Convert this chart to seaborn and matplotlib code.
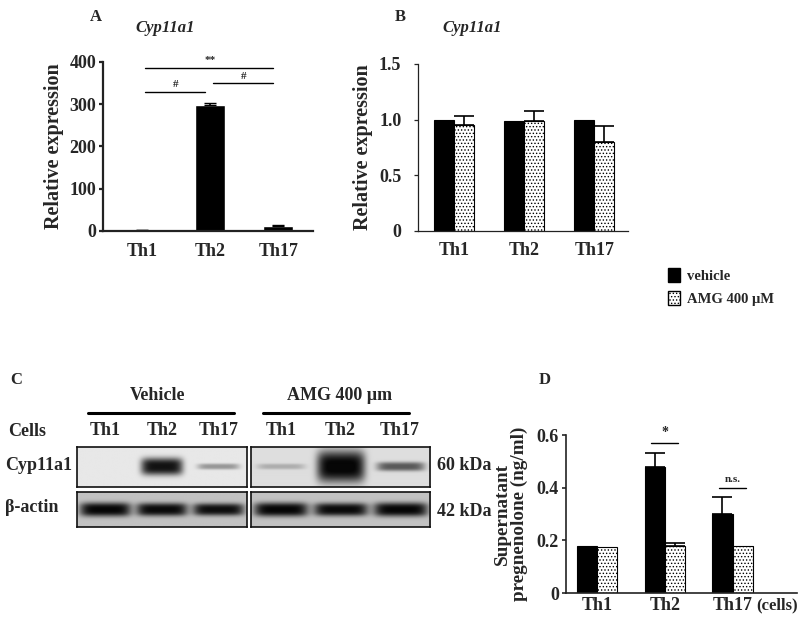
import numpy as np
import pandas as pd
import matplotlib.pyplot as plt
import seaborn as sns
from matplotlib.patches import Patch
from matplotlib.lines import Line2D

# ---- data ----
cells = ['Th1', 'Th2', 'Th17']
treatments = ['vehicle', 'AMG 400 μM']

# A: Cyp11a1 relative expression
expr_a = [2, 298, 12]
err_a = [0.5, 5, 1.5]

# B: Cyp11a1 relative expression, vehicle vs AMG
expr_b_vehicle = [1.0, 0.99, 1.0]
expr_b_amg = [0.95, 0.99, 0.80]
err_b_vehicle = [0.0, 0.0, 0.0]
err_b_amg = [0.08, 0.09, 0.14]

# C: western blot band intensities (0 = no band, 1 = saturated)
cyp_vehicle = [0.0, 0.92, 0.35]
cyp_amg = [0.22, 1.0, 0.6]
actin_vehicle = [0.97, 0.95, 0.93]
actin_amg = [0.97, 0.95, 0.97]

# D: supernatant pregnenolone (ng/ml)
preg_vehicle = [0.18, 0.48, 0.30]
preg_amg = [0.175, 0.18, 0.18]
preg_err_vehicle = [0.0, 0.05, 0.065]
preg_err_amg = [0.0, 0.01, 0.0]

# significance marks: (group from, group to, height, label)
sig_a = [(0, 2, 386, '**'), (0, 1, 329, '#'), (1, 2, 350, '#')]
sig_d = [(1, 0.57, '*'), (2, 0.40, 'n.s.')]

sns.set_style('ticks')
plt.rcParams['font.family'] = ['Liberation Serif', 'DejaVu Serif']
plt.rcParams['font.weight'] = 'bold'
plt.rcParams['axes.labelweight'] = 'bold'
plt.rcParams['hatch.linewidth'] = 0.6
plt.rcParams['hatch.color'] = 'black'

W, H = 800, 622
fig = plt.figure(figsize=(8, 6.22), dpi=100)


def box(l, t, r, b):
    return [l / W, 1 - b / H, (r - l) / W, (b - t) / H]


def ftext(x, y, s, **kw):
    fig.text(x / W, 1 - y / H, s, **kw)


def style_axis(ax, lw, xpad, ypad, size=13):
    sns.despine(ax=ax)
    for sp in ['left', 'bottom']:
        ax.spines[sp].set_linewidth(lw)
        ax.spines[sp].set_color('#222222')
    ax.tick_params(axis='x', length=0, pad=xpad, labelsize=size)
    ax.tick_params(axis='y', length=3, width=lw, pad=ypad, labelsize=size)
    for lab in ax.get_xticklabels() + ax.get_yticklabels():
        lab.set_fontweight('bold')


def grouped(ax, vals_v, vals_a, errs_v, errs_a, width, cap):
    df = pd.DataFrame({'cell': cells * 2,
                       'treatment': [treatments[0]] * 3 + [treatments[1]] * 3,
                       'value': vals_v + vals_a})
    sns.barplot(data=df, x='cell', y='value', hue='treatment',
                palette=['black', 'white'], saturation=1, width=width,
                edgecolor='black', linewidth=0.8, errorbar=None,
                legend=False, ax=ax)
    bars = ax.patches[:6]
    for p in bars[3:]:
        p.set_hatch('.....')
    for p, e in zip(bars, errs_v + errs_a):
        if e > 0:
            ax.errorbar(p.get_x() + p.get_width() / 2, p.get_height(),
                        yerr=[[0], [e]], color='black', capsize=cap,
                        elinewidth=1.2, capthick=1.2)
    return bars


# ---- A ----
axA = fig.add_axes(box(103, 62, 313, 231))
sns.barplot(x=cells, y=expr_a, color='black', saturation=1, width=0.44,
            errorbar=None, ax=axA)
axA.errorbar(range(3), expr_a, yerr=[[0] * 3, err_a], fmt='none',
             color='black', capsize=4, elinewidth=1.2)
axA.set_ylim(0, 400)
axA.set_xlim(-0.57, 2.51)
axA.set_yticks([0, 100, 200, 300, 400])
axA.set_ylabel('Relative expression', fontsize=14.5, labelpad=4)
style_axis(axA, 1.6, 9, 2)
for i, j, h, s in sig_a:
    axA.plot([i + 0.05, j - 0.08], [h, h], color='black', lw=1, clip_on=False)
    axA.text((i + j) / 2, h + 6, s, ha='center', va='bottom', fontsize=8)
ftext(96, 17, 'A', fontsize=12, fontweight='bold', va='center', ha='center')
ftext(135, 28, 'Cyp11a1', fontsize=12, fontweight='bold', style='italic', va='center')

# ---- B ----
axB = fig.add_axes(box(418, 64, 628, 231))
grouped(axB, expr_b_vehicle, expr_b_amg, err_b_vehicle, err_b_amg, 0.57, 7)
axB.set_ylim(0, 1.5)
axB.set_xlim(-0.51, 2.48)
axB.set_yticks([0, 0.5, 1.0, 1.5])
axB.set_yticklabels(['0', '0.5', '1.0', '1.5'])
axB.set_xlabel('')
axB.set_ylabel('Relative expression', fontsize=14.5, labelpad=4)
style_axis(axB, 0.9, 8, 9)
ftext(400, 17, 'B', fontsize=12, fontweight='bold', va='center', ha='center')
ftext(442, 28, 'Cyp11a1', fontsize=12, fontweight='bold', style='italic', va='center')

# legend
handles = [Patch(facecolor='black', edgecolor='black', label=treatments[0]),
           Patch(facecolor='white', edgecolor='black', hatch='.....',
                 label=treatments[1])]
fig.legend(handles=handles, loc='upper left', bbox_to_anchor=(668 / W, 1 - 268 / H),
           frameon=False, fontsize=10.5, handlelength=0.8, handleheight=1.1,
           handletextpad=0.5, labelspacing=0.55, borderpad=0, borderaxespad=0)


# ---- C: western blot ----
def blot_image(intensity, bg, spread, t0, t1):
    xs = np.linspace(-0.5, 2.5, 360)
    ys = np.linspace(0, 1, 60)
    X, Y = np.meshgrid(xs, ys)
    dark = np.zeros_like(X)
    for i, v in enumerate(intensity):
        t = t0 + t1 * v ** 4
        dark += v * np.exp(-(np.abs(X - i) / spread) ** 6) * np.exp(-(np.abs(Y - 0.5) / t) ** 3)
    return bg * (1 - np.clip(dark, 0, 0.97))


blots = [
    (box(77, 447, 247, 487), cyp_vehicle, 0.91, 0.37, 0.07, 0.20, True),
    (box(77, 492, 247, 527), actin_vehicle, 0.76, 0.45, 0.05, 0.17, False),
    (box(251, 447, 430, 487), cyp_amg, 0.87, 0.40, 0.07, 0.32, True),
    (box(251, 492, 430, 527), actin_amg, 0.76, 0.45, 0.05, 0.17, False),
]
for rect, inten, bg, spread, t0, t1, top in blots:
    ax = fig.add_axes(rect)
    ax.imshow(blot_image(inten, bg, spread, t0, t1), cmap='gray', vmin=0, vmax=1,
              origin='lower', extent=(-0.5, 2.5, 0, 1), aspect='auto',
              interpolation='bilinear')
    ax.set_yticks([])
    if top:
        ax.xaxis.tick_top()
        ax.set_xticks(range(3))
        ax.set_xticklabels(cells, fontsize=13, fontweight='bold')
        ax.tick_params(axis='x', length=0, pad=6)
    else:
        ax.set_xticks([])
    for sp in ax.spines.values():
        sp.set_visible(True)
        sp.set_color('#111111')
        sp.set_linewidth(1.2)

ftext(16, 380, 'C', fontsize=12, fontweight='bold', va='center', ha='center')
ftext(158, 395, 'Vehicle', fontsize=13, fontweight='bold', va='center', ha='center')
ftext(340, 395, 'AMG 400 µm', fontsize=13, fontweight='bold', va='center', ha='center')
for x0, x1 in [(88, 234), (263, 409)]:
    fig.add_artist(Line2D([x0 / W, x1 / W], [1 - 413 / H, 1 - 413 / H],
                          color='black', lw=2.2))
ftext(8, 432, 'Cells', fontsize=13, fontweight='bold', va='center')
ftext(5, 466, 'Cyp11a1', fontsize=13, fontweight='bold', va='center')
ftext(5, 508, 'β-actin', fontsize=13, fontweight='bold', va='center')
ftext(437, 466, '60 kDa', fontsize=13, fontweight='bold', va='center')
ftext(437, 511, '42 kDa', fontsize=13, fontweight='bold', va='center')

# ---- D ----
axD = fig.add_axes(box(566, 435, 797, 593))
grouped(axD, preg_vehicle, preg_amg, preg_err_vehicle, preg_err_amg, 0.6, 7)
axD.set_ylim(0, 0.6)
axD.set_xlim(-0.46, 2.95)
axD.set_yticks([0, 0.2, 0.4, 0.6])
axD.set_yticklabels(['0', '0.2', '0.4', '0.6'])
axD.set_xlabel('')
axD.set_ylabel('Supernatant\npregnenolone (ng/ml)', fontsize=13.8, labelpad=6,
               linespacing=1.05)
style_axis(axD, 1.2, 3, 2, size=13)
axD.annotate('(cells)', xy=(2, 0), xytext=(17, -3), textcoords='offset points',
             ha='left', va='top', fontsize=12, fontweight='bold',
             annotation_clip=False)
for g, h, s in sig_d:
    axD.plot([g - 0.2, g + 0.2], [h, h], color='black', lw=1, clip_on=False)
    axD.text(g, h + 0.015, s, ha='center', va='bottom', fontsize=8 if s != '*' else 10)
ftext(545, 380, 'D', fontsize=12, fontweight='bold', va='center', ha='center')

fig.savefig('out.png', dpi=100)
